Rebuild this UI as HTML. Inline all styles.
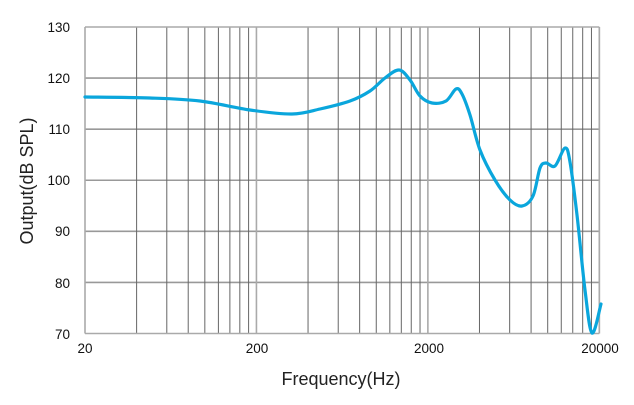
<!DOCTYPE html>
<html><head><meta charset="utf-8"><style>
html,body{margin:0;padding:0;background:#fff;}
svg{display:block;font-family:"Liberation Sans",sans-serif;}
</style></head><body>
<svg id="s" width="634" height="405" viewBox="0 0 634 405" xmlns="http://www.w3.org/2000/svg">
<g id="grid"></g>
<g font-size="13.5" fill="#111" text-anchor="end">
<text x="70" y="32">130</text><text x="70" y="83">120</text><text x="70" y="134">110</text>
<text x="70" y="185">100</text><text x="70" y="236">90</text><text x="70" y="288">80</text><text x="70" y="339">70</text>
</g>
<g font-size="13.5" fill="#111" text-anchor="middle">
<text x="85" y="353">20</text><text x="257" y="353">200</text><text x="429" y="353">2000</text><text x="600" y="353">20000</text>
</g>
<text x="341" y="385" font-size="18" text-anchor="middle" fill="#222">Frequency(Hz)</text>
<text transform="translate(33,181) rotate(-90)" font-size="18" text-anchor="middle" fill="#222">Output(dB SPL)</text>
<path id="c" fill="none" stroke="#0aa6dc" stroke-width="3.2" stroke-linejoin="round" stroke-linecap="round"/>
</svg>
<script>
var L=85,R=599.3,T=27,B=333.5,ns="http://www.w3.org/2000/svg",g=document.getElementById('grid');
function X(f){return L+(R-L)*Math.log10(f/20)/3;}
function ln(x1,y1,x2,y2,c,w){var e=document.createElementNS(ns,'line');e.setAttribute('x1',x1);e.setAttribute('y1',y1);e.setAttribute('x2',x2);e.setAttribute('y2',y2);e.setAttribute('stroke',c);e.setAttribute('stroke-width',w);g.appendChild(e);}
for(var i=1;i<6;i++){var y=T+(B-T)*i/6;ln(L,y,R,y,'#999',1.6);}
[20,200,2000].forEach(function(d){for(var k=2;k<=10;k++){var x=X(d*k);ln(x,T,x,B,k==10?'#aaa':'#666',k==10?1.6:1);}});
ln(L,T,R,T,'#aaa',1.6);ln(L,B,R,B,'#aaa',1.6);ln(L,T,L,B,'#aaa',1.6);ln(R,T,R,B,'#aaa',1.6);
var p=[[85,97],[150,98],[200,101],[250,110],[292,114],[320,109],[350,101],[370,91],[385,78],[399,70],[410,80],[420,96],[432,103],[446,101],[456,89],[462,94],[470,115],[480,150],[495,180],[510,200],[522,206],[533,196],[540,168],[546,163],[555,166],[565,148],[570,162],[577,215],[585,290],[592,333],[601,304]];
var d='M'+p[0][0]+','+p[0][1];
for(var i=0;i<p.length-1;i++){var a=p[Math.max(0,i-1)],b=p[i],c=p[i+1],e=p[Math.min(p.length-1,i+2)];
d+=' C'+(b[0]+(c[0]-a[0])/6)+','+(b[1]+(c[1]-a[1])/6)+' '+(c[0]-(e[0]-b[0])/6)+','+(c[1]-(e[1]-b[1])/6)+' '+c[0]+','+c[1];}
document.getElementById('c').setAttribute('d',d);
</script>
</body></html>
